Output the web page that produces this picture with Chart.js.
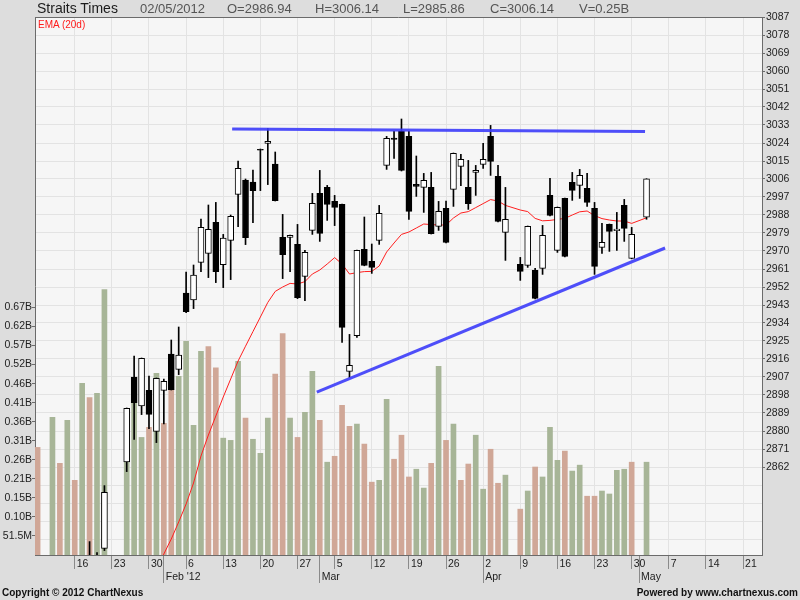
<!DOCTYPE html>
<html>
<head>
<meta charset="utf-8">
<title>Straits Times</title>
<script src="https://cdn.jsdelivr.net/npm/chart.js@4.4.0/dist/chart.umd.min.js"></script>
<style>
  html, body { margin: 0; padding: 0; background: #dddddd; }
  #wrap { position: relative; width: 800px; height: 600px; overflow: hidden;
          font-family: 'Liberation Sans', Arial, sans-serif; }
  #wrap canvas { position: absolute; left: 0; top: 0; }
  .t { position: absolute; white-space: nowrap; line-height: 1; }
  .hd { font-size: 13px; color: #555; top: 2px; }
  .ft { font-size: 10px; font-weight: bold; color: #111; top: 588px; }
</style>
</head>
<body>
<div id="wrap">
  <canvas id="c" width="800" height="600"></canvas>
  <div class="t" style="left:37px; top:1px; font-size:14px; color:#1a1a1a;">Straits Times</div>
  <div class="t hd" style="left:140px;">02/05/2012</div>
  <div class="t hd" style="left:227px;">O=2986.94</div>
  <div class="t hd" style="left:315px;">H=3006.14</div>
  <div class="t hd" style="left:403px;">L=2985.86</div>
  <div class="t hd" style="left:490px;">C=3006.14</div>
  <div class="t hd" style="left:579px;">V=0.25B</div>
  <div class="t" style="left:38px; top:19.5px; font-size:10px; color:#ff1a1a;">EMA (20d)</div>
  <div class="t ft" style="left:2px;">Copyright © 2012 ChartNexus</div>
  <div class="t ft" style="right:2px;">Powered by www.chartnexus.com</div>
</div>
<script>
// one slot per weekday starting Mon 9 Jan 2012; null = no trading (holiday / missing)
const openP = [
  2725, null, 2720, 2743, 2738,            // Jan 9
  2752, 2750, 2805, 2798, 2821.3,          // Jan 16
  null, null, 2864.5, 2907.0, 2892.5,      // Jan 23
  2900.3, 2879.8, 2900.3, 2918.5, 2910.8,  // Jan 30
  2949.0, 2945.5, 2964.3, 2968.8, 2984.3,  // Feb 6
  2963.2, 2975.3, 2998.3, 3005.5, 3004.5,  // Feb 13
  3020.8, 3023.8, 3013.5, 2976.8, 2976.8,  // Feb 20
  2973.3, 2957.3, 2980.3, 2998.8, 3001.8,  // Feb 27
  2994.8, 2993.3, 2909.8, 2927.7, 2970.8,  // Mar 5
  2964.8, 2975.3, 3012.8, 3026.5, 3029.8,  // Mar 12
  3027.3, 3003.3, 3001.8, 3001.8, 2982.3,  // Mar 19
  2991.3, 3000.8, 3012.3, 3001.8, 3009.3,  // Mar 26
  3013.3, 3027.3, 3007.3, 2979.3, null,    // Apr 2
  2963.3, 2962.8, 2960.3, 2961.3, 2997.8,  // Apr 9
  2970.3, 2996.3, 3004.3, 3002.8, 3001.3,  // Apr 16
  2991.3, 2971.8, 2983.3, 2980.2, 2992.8,  // Apr 23
  2966.3, null, 2986.94                    // Apr 30
];
const highP = [
  2732, null, 2745, 2750, 2762,
  2760, 2805, 2824.7, 2819.2, 2852.7,
  null, null, 2891.5, 2917.5, 2916.5,
  2907.5, 2906.5, 2906.0, 2925.5, 2932.0,
  2959.5, 2963.0, 2986.0, 2993.0, 2994.3,
  2978.3, 2988.0, 3015.0, 3006.0, 3010.5,
  3021.0, 3031.3, 3019.5, 2988.3, 2978.0,
  2983.3, 2970.3, 2998.8, 3010.3, 3002.8,
  2997.8, 2993.5, 2928.3, 2970.5, 2987.0,
  2973.5, 2992.8, 3027.3, 3029.8, 3036.0,
  3029.8, 3017.5, 3008.8, 3009.3, 2994.8,
  2995.0, 3019.0, 3018.3, 3015.3, 3012.8,
  3023.8, 3032.8, 3012.8, 3001.8, null,
  2966.8, 2982.5, 2961.3, 2982.8, 3006.3,
  2992.0, 2996.5, 3009.3, 3010.8, 3008.8,
  2994.3, 2983.8, 2983.5, 2989.3, 2995.8,
  2981.8, null, 3006.14
];
const lowP = [
  2712, null, 2718, 2730, 2736,
  2740, 2748, 2785, 2795, 2820.2,
  null, null, 2859.7, 2875.8, 2888.2,
  2881.2, 2874.2, 2883.5, 2900.5, 2908.2,
  2939.2, 2941.2, 2959.7, 2956.7, 2954.2,
  2951.7, 2955.7, 2982.2, 2973.2, 2984.2,
  3000.2, 3003.2, 2995.0, 2956.2, 2959.7,
  2946.2, 2945.2, 2978.3, 2974.8, 2985.3,
  2982.7, 2924.3, 2906.7, 2926.8, 2962.6,
  2958.8, 2973.3, 3010.8, 3016.3, 3010.0,
  2985.8, 2997.3, 2989.3, 2978.5, 2980.3,
  2974.1, 2992.3, 3002.7, 2990.8, 2997.8,
  3011.3, 3007.8, 2984.6, 2965.3, null,
  2955.3, 2961.8, 2946.1, 2958.3, 2987.6,
  2969.3, 2967.1, 2995.3, 2996.3, 2992.3,
  2958.3, 2968.8, 2969.8, 2970.3, 2974.8,
  2966.1, null, 2985.86
];
const closeP = [
  2716, null, 2741, 2735, 2758,
  2745, 2800, 2795, 2815, 2849.3,
  null, null, 2891.3, 2894.2, 2916.3,
  2888.3, 2906.3, 2904.8, 2900.7, 2918.0,
  2939.7, 2958.0, 2981.8, 2980.8, 2959.7,
  2976.5, 2987.3, 3011.3, 2976.7, 3000.2,
  3020.4, 3024.8, 2995.2, 2968.2, 2977.8,
  2946.7, 2969.3, 2993.8, 2978.8, 2993.3,
  2991.8, 2931.8, 2912.8, 2970.3, 2962.8,
  2961.8, 2988.8, 3026.3, 3025.8, 3010.3,
  2989.8, 3002.3, 3005.3, 2978.7, 2989.8,
  2974.3, 3018.8, 3015.8, 2993.7, 3010.3,
  3015.8, 3014.8, 2984.8, 2985.8, null,
  2959.8, 2982.3, 2946.3, 2977.8, 2987.8,
  2991.8, 2967.3, 3000.3, 3007.8, 2994.3,
  2962.3, 2974.3, 2979.8, 2981.0, 2981.3,
  2978.3, null, 3006.14
];
// volume in millions of shares
const volumeM = [
  291, null, 372, 248, 364,
  202, 464, 426, 437, 718,
  null, null, 255, 410, 318,
  345, 491, 356, 448, 483,
  578, 351, 551, 564, 506,
  316, 310, 524, 370, 313,
  275, 370, 489, 599, 370,
  318, 386, 497, 364, 251,
  267, 405, 348, 354, 300,
  197, 202, 421, 259, 324,
  211, 232, 181, 248, 510,
  310, 354, 202, 246, 324,
  178, 286, 194, 216, null,
  124, 173, 238, 211, 345,
  256, 281, 227, 243, 159,
  159, 173, 165, 229, 232,
  251, null, 251
];
const ema20 = [
  null, null, null, null, null,
  null, null, null, null, null,
  null, null, null, null, null,
  2802, 2810, 2818.5, 2826, 2834.5,
  2843.5, 2854, 2867.5, 2878, 2887.5,
  2897, 2906, 2915, 2922.4, 2929.7,
  2937, 2944.3, 2949.8, 2952, 2953.8,
  2953.5, 2954.7, 2958.5, 2960.5, 2963.5,
  2966.7, 2963.5, 2958.5, 2959.2, 2959.7,
  2959.8, 2962.5, 2969.5, 2974, 2978.3,
  2979.5, 2981.5, 2983.5, 2983.2, 2983,
  2983, 2986.5, 2989, 2989.7, 2991.7,
  2993.7, 2995.7, 2995, 2992.8, null,
  2990.5, 2989.7, 2986.3, 2985.1, 2985.3,
  2985.8, 2986.3, 2988, 2989.6, 2990,
  2987.7, 2986.2, 2985.5, 2985, 2985,
  2983.8, null, 2986.6
];
// hand-drawn trend lines (slot index, price)
const upperTrend = [{ x: 26.2, y: 3031.0 }, { x: 81.8, y: 3029.7 }];
const lowerTrend = [{ x: 37.6, y: 2899.4 }, { x: 84.5, y: 2971.5 }];

const weekTickLabels = ['16', '23', '30', '6', '13', '20', '27', '5', '12', '19', '26',
                        '2', '9', '16', '23', '30', '7', '14', '21'];
const monthTickLabels = ["Feb '12", 'Mar', 'Apr', 'May'];
const priceTickLabels = [2862, 2871, 2880, 2889, 2898, 2907, 2916, 2925, 2934, 2943, 2952,
                         2961, 2970, 2979, 2988, 2997, 3006, 3015, 3024, 3033, 3042, 3051,
                         3060, 3069, 3078, 3087];
const priceGridExtra = [2826, 2835, 2844, 2853];
const volTickLabels = ['51.5M', '0.10B', '0.15B', '0.21B', '0.26B', '0.31B', '0.36B',
                       '0.41B', '0.46B', '0.52B', '0.57B', '0.62B', '0.67B'];
const volTickStep = 51.5;

const X_MIN = -0.35, X_MAX = 97.55;
const GREEN = '#a7b597', PINK = '#d0a797';
const GRID = '#e3e3e3', AXIS = '#6b6b6b', TICK = '#8a8a8a';
const FONT = { family: "'Liberation Sans', Arial, sans-serif", size: 10.5 };
const NONE = 'rgba(0,0,0,0)';

// weekday slots on the axis, used to place the Monday / month ticks
const slots = [];
for (let d = new Date(2012, 0, 9); slots.length < 98; d.setDate(d.getDate() + 1)) {
  if (d.getDay() !== 0 && d.getDay() !== 6) slots.push(new Date(d));
}
const weekIdx = [], monthIdx = [];
slots.forEach((d, i) => {
  if (i > 0 && d.getDay() === 1) weekIdx.push(i);
  if (i > 0 && d.getMonth() !== slots[i - 1].getMonth()) monthIdx.push(i);
});
const xTicks = weekIdx.map((v, k) => ({ value: v, label: weekTickLabels[k], week: true }));
monthIdx.forEach(v => { if (!weekIdx.includes(v)) xTicks.push({ value: v, label: '', week: false }); });
xTicks.sort((a, b) => a.value - b.value);

function prevClose(i) {
  let p = i - 1;
  while (p >= 0 && closeP[p] == null) p--;
  return p >= 0 ? closeP[p] : openP[i];
}

const days = closeP.map((c, i) => i).filter(i => closeP[i] != null);
const bodyData = days.map(i => ({ x: i, y: [openP[i], closeP[i]] }));
const wickData = days.map(i => ({ x: i, y: [lowP[i], highP[i]] }));
const volData = days.map(i => ({ x: i, y: volumeM[i] }));
const emaData = ema20.map((v, i) => ({ x: i, y: v })).filter(p => p.y != null);

const plotFrame = {
  id: 'plotFrame',
  beforeDraw(chart) {
    const { ctx, chartArea: a } = chart;
    ctx.save();
    ctx.fillStyle = '#f6f6f6';
    ctx.fillRect(a.left, a.top, a.right - a.left, a.bottom - a.top);
    ctx.restore();
  },
  afterDraw(chart) {
    const { ctx, chartArea: a } = chart;
    ctx.save();
    ctx.strokeStyle = AXIS;
    ctx.lineWidth = 1;
    ctx.beginPath();
    ctx.moveTo(a.left, a.top + 0.5);
    ctx.lineTo(a.right, a.top + 0.5);
    ctx.stroke();
    ctx.restore();
  }
};

new Chart(document.getElementById('c'), {
  type: 'bar',
  data: {
    datasets: [
      { type: 'line', label: 'Resistance', data: upperTrend, xAxisID: 'x', yAxisID: 'y',
        borderColor: 'rgba(60,60,250,0.9)', borderWidth: 3, pointRadius: 0, order: 0 },
      { type: 'line', label: 'Support', data: lowerTrend, xAxisID: 'x', yAxisID: 'y',
        borderColor: 'rgba(60,60,250,0.9)', borderWidth: 3, pointRadius: 0, order: 0 },
      { type: 'bar', label: 'Body', data: bodyData, xAxisID: 'x', yAxisID: 'y',
        barThickness: 6, borderWidth: 1, borderColor: '#000', borderSkipped: false,
        backgroundColor: ctx => (ctx.raw && ctx.raw.y[1] >= ctx.raw.y[0]) ? '#ffffff' : '#000000',
        grouped: false, clip: 0, order: 1 },
      { type: 'bar', label: 'Wick', data: wickData, xAxisID: 'x', yAxisID: 'y',
        barThickness: 1, backgroundColor: '#000', borderWidth: 0,
        grouped: false, clip: 0, order: 2 },
      { type: 'line', label: 'EMA (20d)', data: emaData, xAxisID: 'x', yAxisID: 'y',
        borderColor: '#ff2020', borderWidth: 1, pointRadius: 0, tension: 0, order: 3 },
      { type: 'bar', label: 'Volume', data: volData, xAxisID: 'x', yAxisID: 'yv',
        barThickness: 5, borderWidth: 0,
        backgroundColor: ctx => {
          if (!ctx.raw) return GREEN;
          const i = ctx.raw.x;
          return closeP[i] > prevClose(i) ? GREEN : PINK;
        },
        grouped: false, order: 4 }
    ]
  },
  options: {
    responsive: false,
    devicePixelRatio: 1,
    animation: false,
    events: [],
    layout: { padding: { top: 17, left: 0, right: 0, bottom: 17 } },
    plugins: { legend: { display: false }, tooltip: { enabled: false }, title: { display: false } },
    scales: {
      x: {
        type: 'linear', position: 'bottom', weight: 0, min: X_MIN, max: X_MAX, offset: false,
        afterBuildTicks: ax => { ax.ticks = xTicks.map(t => ({ value: t.value })); },
        afterFit: ax => { ax.height = 14; },
        grid: {
          offset: false, lineWidth: 1, tickLength: 14, tickColor: TICK,
          color: ctx => (xTicks[ctx.index] && xTicks[ctx.index].week) ? GRID : NONE
        },
        border: { color: AXIS, width: 1 },
        ticks: {
          autoSkip: false, maxRotation: 0, align: 'start', labelOffset: 2, padding: -11.6,
          color: '#222', font: FONT,
          callback: (v, i) => xTicks[i] ? xTicks[i].label : ''
        }
      },
      x2: {
        type: 'linear', position: 'bottom', weight: 1, min: X_MIN, max: X_MAX, offset: false,
        afterBuildTicks: ax => { ax.ticks = monthIdx.map(v => ({ value: v })); },
        afterFit: ax => { ax.height = 14; },
        grid: { offset: false, drawOnChartArea: false, tickLength: 14, tickColor: TICK },
        border: { display: false },
        ticks: {
          autoSkip: false, maxRotation: 0, align: 'start', labelOffset: 2, padding: -12.6,
          color: '#222', font: FONT,
          callback: (v, i) => monthTickLabels[i] || ''
        }
      },
      yv: {
        type: 'linear', position: 'left', min: 0, max: 1455, beginAtZero: false,
        afterBuildTicks: ax => { ax.ticks = volTickLabels.map((_, k) => ({ value: (k + 1) * volTickStep })); },
        afterFit: ax => { ax.width = 35; },
        grid: { drawOnChartArea: false, tickLength: 3, tickColor: AXIS },
        border: { color: AXIS, width: 1 },
        ticks: { autoSkip: false, padding: 0, color: '#222', font: FONT,
                 callback: (v, i) => volTickLabels[i] || '' }
      },
      y: {
        type: 'linear', position: 'right', min: 2818, max: 3087, beginAtZero: false,
        afterBuildTicks: ax => {
          ax.ticks = priceGridExtra.concat(priceTickLabels).map(v => ({ value: v }));
        },
        afterFit: ax => { ax.width = 38; },
        grid: {
          color: GRID, lineWidth: 1, tickLength: 3,
          tickColor: ctx => (ctx.tick && priceTickLabels.includes(ctx.tick.value)) ? AXIS : NONE
        },
        border: { color: AXIS, width: 1 },
        ticks: { autoSkip: false, padding: 1, color: '#222', font: FONT,
                 callback: v => priceTickLabels.includes(v) ? String(v) : '' }
      }
    }
  },
  plugins: [plotFrame]
});
</script>
</body>
</html>
